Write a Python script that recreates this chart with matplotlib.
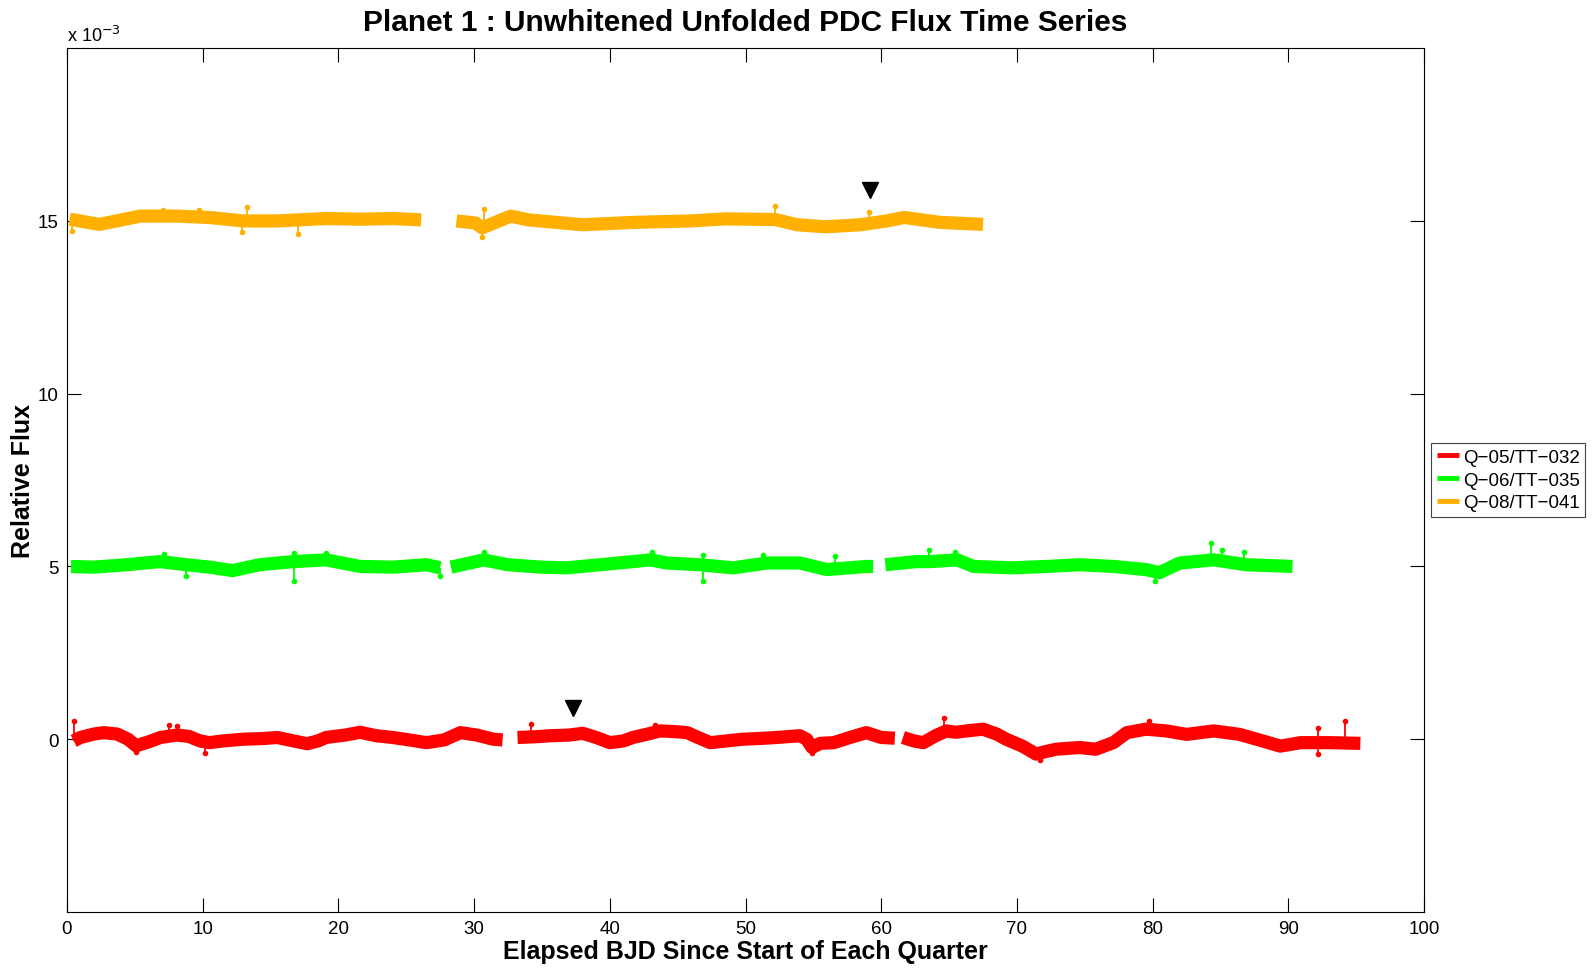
import numpy as np
import matplotlib
matplotlib.use("Agg")
import matplotlib.pyplot as plt

plt.rcParams['font.family'] = ['Liberation Sans', 'DejaVu Sans']

# relative flux in units of 1e-3, one list per contiguous stretch of data
red_t = [
    [0.5, 1.0, 2.0, 2.7, 3.7, 4.5, 5.1, 6.0, 6.9, 8.1, 9.0, 9.8, 10.5, 11.5, 13.0, 14.5,
     15.5, 16.7, 17.7, 18.5, 19.1, 20.5, 21.6, 22.8, 24.0, 25.2, 26.5, 27.8, 29.0, 30.2, 31.4, 32.1],
    [33.2, 34.5, 35.6, 37.0, 38.0, 39.0, 40.0, 41.0, 41.7, 42.8, 43.7, 44.8, 45.7, 46.5, 47.4,
     48.6, 49.8, 51.0, 52.3, 53.3, 54.0, 54.5, 54.9, 55.5, 56.5, 57.7, 58.9, 60.0, 61.0],
    [61.6, 62.4, 63.1, 64.0, 64.8, 65.5, 66.3, 67.5, 68.5, 69.2, 70.4, 71.4, 72.2, 72.9, 74.6,
     75.8, 77.1, 78.1, 79.5, 81.0, 82.5, 84.5, 86.4, 88.1, 89.4, 90.9, 93.1, 95.3],
]
red_v = [
    [-0.05, 0.05, 0.15, 0.19, 0.15, 0.0, -0.19, -0.08, 0.05, 0.12, 0.08, -0.05, -0.1, -0.05, 0.0, 0.02,
     0.05, -0.05, -0.13, -0.05, 0.05, 0.12, 0.2, 0.1, 0.05, -0.02, -0.1, -0.02, 0.19, 0.12, 0.0, -0.02],
    [0.05, 0.07, 0.1, 0.12, 0.17, 0.05, -0.1, -0.05, 0.05, 0.15, 0.24, 0.22, 0.19, 0.05, -0.1,
     -0.05, 0.0, 0.02, 0.05, 0.08, 0.1, 0.0, -0.24, -0.12, -0.1, 0.05, 0.19, 0.05, 0.03],
    [0.05, -0.05, -0.1, 0.1, 0.24, 0.2, 0.24, 0.29, 0.15, 0.0, -0.2, -0.43, -0.35, -0.29, -0.24,
     -0.29, -0.1, 0.19, 0.29, 0.24, 0.14, 0.24, 0.14, -0.05, -0.2, -0.1, -0.1, -0.12],
]
green_t = [
    [0.3, 2.0, 4.4, 6.85, 8.8, 10.5, 12.2, 14.2, 16.7, 19.1, 21.6, 24.0, 26.5, 27.5],
    [28.3, 30.7, 32.5, 34.9, 36.8, 39.3, 43.0, 44.2, 46.6, 49.1, 51.6, 54.0, 56.0, 58.9, 59.4],
    [60.3, 62.6, 63.6, 65.6, 66.8, 69.7, 72.2, 74.6, 77.1, 79.5, 80.5, 82.0, 84.5, 86.9, 90.3],
]
green_v = [
    [5.0, 4.98, 5.05, 5.14, 5.05, 4.98, 4.88, 5.05, 5.14, 5.19, 5.0, 4.98, 5.05, 4.96],
    [4.98, 5.19, 5.05, 4.98, 4.96, 5.05, 5.19, 5.1, 5.05, 4.96, 5.1, 5.1, 4.91, 5.0, 5.0],
    [5.05, 5.14, 5.14, 5.19, 5.0, 4.96, 5.0, 5.05, 5.0, 4.91, 4.82, 5.1, 5.19, 5.05, 5.0],
]
orange_t = [
    [0.2, 2.4, 5.4, 8.1, 10.5, 13.0, 15.5, 19.1, 21.6, 24.0, 26.1],
    [28.7, 30.1, 30.6, 32.7, 34.0, 38.0, 41.9, 45.9, 48.5, 52.2, 53.8, 55.9, 58.5, 60.4, 61.7, 64.3, 67.5],
]
orange_v = [
    [15.05, 14.9, 15.14, 15.14, 15.1, 15.0, 15.0, 15.07, 15.05, 15.07, 15.03],
    [15.0, 14.94, 14.8, 15.14, 15.03, 14.89, 14.96, 15.0, 15.06, 15.04, 14.89, 14.83, 14.89, 15.0, 15.1, 14.96, 14.9],
]

# isolated outlier samples
red_spike_t = [0.5, 5.1, 7.5, 8.1, 10.2, 34.2, 43.3, 54.9, 64.6, 71.7, 79.7, 92.2, 92.2, 94.2]
red_spike_v = [0.53, -0.38, 0.4, 0.38, -0.41, 0.43, 0.4, -0.41, 0.6, -0.6, 0.52, 0.32, -0.43, 0.53]
green_spike_t = [7.15, 8.8, 16.7, 16.7, 19.1, 27.5, 30.7, 43.1, 46.9, 46.9, 51.3, 56.6, 63.5, 65.4, 80.2, 84.3, 85.1, 86.7]
green_spike_v = [5.36, 4.71, 4.58, 5.38, 5.38, 4.71, 5.41, 5.43, 4.58, 5.34, 5.34, 5.31, 5.48, 5.43, 4.58, 5.67, 5.48, 5.43]
orange_spike_t = [0.4, 7.1, 9.7, 12.9, 13.3, 17.0, 30.6, 30.7, 52.2, 59.1]
orange_spike_v = [14.7, 15.33, 15.31, 14.68, 15.4, 14.61, 14.53, 15.35, 15.42, 15.25]

# transit markers
marker_t = [37.3, 59.2]
marker_v = [0.9, 15.9]

labels = ['Q\u221205/TT\u2212032', 'Q\u221206/TT\u2212035', 'Q\u221208/TT\u2212041']
colors = ['#ff0000', '#00ff00', '#ffb000']

fig = plt.figure(figsize=(15.93, 9.70), dpi=100)
ax = fig.add_axes([0.042, 0.0588, 0.852, 0.8905])

series = [(red_t, red_v, red_spike_t, red_spike_v),
          (green_t, green_v, green_spike_t, green_spike_v),
          (orange_t, orange_v, orange_spike_t, orange_spike_v)]

for (ts, vs, st, sv), c, lab in zip(series, colors, labels):
    for k, (t, v) in enumerate(zip(ts, vs)):
        ax.plot(t, v, color=c, lw=9.5, solid_capstyle='butt', solid_joinstyle='round',
                label=lab if k == 0 else None)
    all_t = np.concatenate(ts)
    all_v = np.concatenate(vs)
    base = np.interp(st, all_t, all_v)
    ax.vlines(st, base, sv, color=c, lw=1.3)
    ax.plot(st, sv, '.', color=c, ms=6)

ax.plot(marker_t, marker_v, 'v', color='black', ms=12, ls='none')

ax.set_xlim(0, 100)
ax.set_ylim(-5, 20)
ax.set_xticks(np.arange(0, 101, 10))
ax.set_yticks([0, 5, 10, 15])
ax.tick_params(direction='in', length=10, width=0.8, top=True, right=True,
               labelsize=13.5, pad=6)
for s in ax.spines.values():
    s.set_linewidth(0.8)

ax.text(0, 1.004, r'x 10$^{-3}$', transform=ax.transAxes, fontsize=13, va='bottom')
ax.set_title('Planet 1 : Unwhitened Unfolded PDC Flux Time Series',
             fontsize=21.5, fontweight='bold', pad=13)
ax.set_xlabel('Elapsed BJD Since Start of Each Quarter', fontsize=18, fontweight='bold', labelpad=1)
ax.set_ylabel('Relative Flux', fontsize=18, fontweight='bold', labelpad=2)

leg = ax.legend(loc='center left', bbox_to_anchor=(1.005, 0.5), fontsize=13.5,
                handlelength=1.2, handletextpad=0.2, labelspacing=0.3,
                borderpad=0.3, borderaxespad=0, fancybox=False, framealpha=1)
leg.get_frame().set_edgecolor('#444444')
leg.get_frame().set_linewidth(0.8)
for h in leg.get_lines():
    h.set_linewidth(3.5)

fig.savefig('out.png', dpi=100)
